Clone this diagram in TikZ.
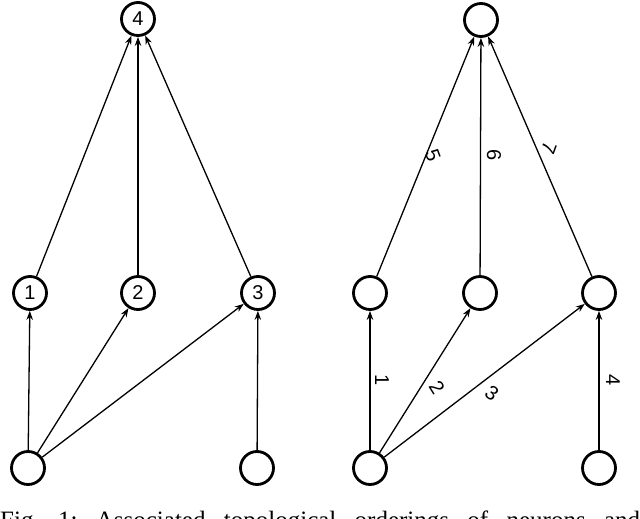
\documentclass[tikz,border=0pt]{standalone}
\usepackage{fontspec}
\setmainfont{Liberation Serif}
\newfontfamily\lsans{Liberation Sans}
\usetikzlibrary{arrows.meta}
\begin{document}
\begin{tikzpicture}[x=1pt,y=-1pt,
  nd/.style={circle,draw,line width=2.8pt,minimum size=33pt,inner sep=0pt,
    font=\lsans\fontsize{20}{20}\selectfont},
  ed/.style={line width=1.3pt,-{Stealth[length=9pt,width=6.5pt]}},
  lb/.style={font=\lsans\fontsize{20}{20}\selectfont,inner sep=0pt}]
\useasboundingbox (0,0) rectangle (640,519);
\clip (0,0) rectangle (640,519);
% left graph
\node[nd] (L4) at (138,19) {4};
\node[nd] (L1) at (30,293) {1};
\node[nd] (L2) at (138,293) {2};
\node[nd] (L3) at (258,293) {3};
\node[nd] (La) at (28,468) {};
\node[nd] (Lb) at (257,468) {};
\draw[ed] (L1) -- (L4);
\draw[ed] (L2) -- (L4);
\draw[ed] (L3) -- (L4);
\draw[ed] (La) -- (L1);
\draw[ed] (La) -- (L2);
\draw[ed] (La) -- (L3);
\draw[ed] (Lb) -- (L3);
% right graph
\node[nd] (R4) at (481,20) {};
\node[nd] (R1) at (370,293) {};
\node[nd] (R2) at (480,293) {};
\node[nd] (R3) at (599,293) {};
\node[nd] (Ra) at (370,468) {};
\node[nd] (Rb) at (599,468) {};
\draw[ed] (R1) -- (R4);
\draw[ed] (R2) -- (R4);
\draw[ed] (R3) -- (R4);
\draw[ed] (Ra) -- (R1);
\draw[ed] (Ra) -- (R2);
\draw[ed] (Ra) -- (R3);
\draw[ed] (Rb) -- (R3);
% edge labels
\node[lb,rotate=-70] (e5) at (433,155) {5};
\node[lb,rotate=-90] (e6) at (494,155) {6};
\node[lb,rotate=-110] (e7) at (549,148) {7};
\node[lb,rotate=-90] (e1) at (382,380) {1};
\node[lb,rotate=-58] (e2) at (437,388) {2};
\node[lb,rotate=-36] (e3) at (492,393) {3};
\node[lb,rotate=-90] (e4) at (613,380) {4};
% caption (cut off by the lower edge)
\node[anchor=base west,inner sep=0pt,font=\fontsize{25}{25}\selectfont] (cap) at (0,528.5)
  {\frenchspacing\makebox[640pt][s]{Fig. 1: Associated topological orderings of neurons and}};
\end{tikzpicture}
\end{document}
